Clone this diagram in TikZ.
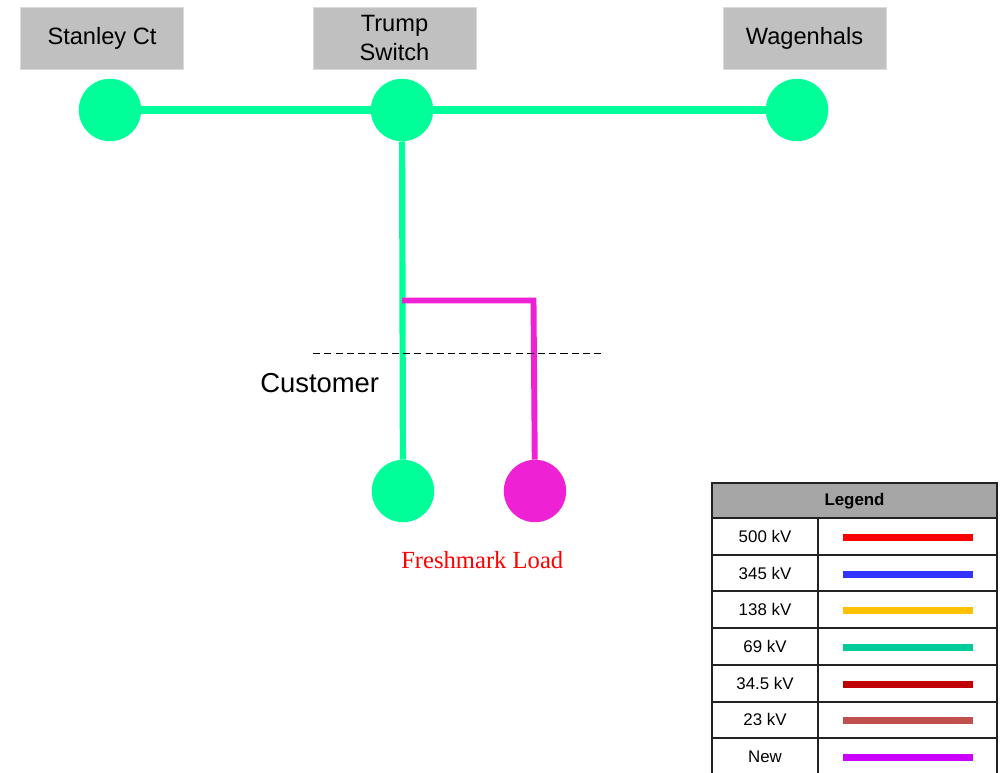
\documentclass[tikz,border=0pt]{standalone}
\usepackage{fontspec}
\setmainfont{Liberation Sans}
\newfontfamily\loadfont{Liberation Serif}
\usetikzlibrary{positioning}
\definecolor{BoxGray}{HTML}{C0C0C0}
\definecolor{BoxEdge}{HTML}{DADADA}
\definecolor{HeadGray}{HTML}{A6A6A6}
\definecolor{GridInk}{HTML}{222222}
\definecolor{Bus69}{HTML}{00FF99}
\definecolor{NewPink}{HTML}{EE22D4}
\definecolor{LoadRed}{HTML}{FF0000}
\definecolor{Kv500}{HTML}{FF0000}
\definecolor{Kv345}{HTML}{3333FF}
\definecolor{Kv138}{HTML}{FFC000}
\definecolor{Kv69}{HTML}{00CC99}
\definecolor{Kv345b}{HTML}{C00000}
\definecolor{Kv23}{HTML}{C0504D}
\definecolor{KvNew}{HTML}{CC00FF}
\tikzset{
  subbox/.style={draw=BoxEdge,fill=BoxGray,minimum width=4.07cm,minimum height=1.55cm,align=center,font=\fontsize{16.8}{20}\selectfont,text=black,inner sep=0pt},
  bus/.style={circle,fill=Bus69,minimum size=1.56cm,inner sep=0pt},
  newbus/.style={bus,fill=NewPink},
  line69/.style={draw=Bus69,line width=5.6pt},
  drop69/.style={draw=Bus69,line width=4.4pt},
  linenew/.style={draw=NewPink,line width=4.2pt,line join=miter},
  boundary/.style={draw=black,dashed,dash pattern=on 5pt off 3pt,line width=0.7pt},
  legtext/.style={font=\fontsize{12}{14}\selectfont,text=black},
  swatch/.style={line width=5pt}
}

\begin{document}
\begin{tikzpicture}[x=0.025cm,y=-0.025cm]
  \useasboundingbox[fill=white] (0,0) rectangle (1005,772);
  \clip (0,0) rectangle (1005,772);
  % station labels
  \node[subbox] (stanleyLbl) at (102,38) {Stanley Ct};
  \node[subbox] (trumpLbl) at (394.5,38) {Trump\\Switch};
  \node[subbox] (wagenLbl) at (804.5,38) {Wagenhals};
  % buses
  \node[bus] (stanley) at (110,110) {};
  \node[bus] (trump) at (402,110) {};
  \node[bus] (wagen) at (797,110) {};
  \node[bus] (custbus) at (403,491) {};
  \node[newbus] (freshmark) at (535,491) {};
  \coordinate (tap) at (402,300.5);
  \coordinate (corner) at (533.5,300.5);
  \draw[line69] (stanley) -- (trump);
  \draw[line69] (trump) -- (wagen);
  \draw[drop69] (trump) -- (custbus);
  \draw[linenew] (tap) -- (corner) -- (freshmark);
  % customer boundary
  \coordinate (cutL) at (313,353.5);
  \coordinate (cutR) at (605,353.5);
  \draw[boundary] (cutL) -- (cutR);
  \node[anchor=base west,inner sep=0pt,font=\fontsize{19.5}{22}\selectfont] (customer) at (260,392) {Customer};
  \node[anchor=base west,inner sep=0pt,text=LoadRed,font=\loadfont\fontsize{17.5}{20}\selectfont] (loadLbl) at (401,568) {Freshmark Load};
  % legend
  \fill[HeadGray] (712,483) rectangle (997,518);
  \node[legtext,font=\fontsize{12}{14}\selectfont\bfseries] (legHead) at (854.5,501) {Legend};
  \foreach \lbl/\col [count=\i] in {500 kV/Kv500, 345 kV/Kv345, 138 kV/Kv138, 69 kV/Kv69, 34.5 kV/Kv345b, 23 kV/Kv23, New/KvNew}{
    \pgfmathsetmacro\rowtop{518+(\i-1)*36.7}
    \pgfmathsetmacro\rowmid{\rowtop+18.35}
    \draw[GridInk,line width=1.4pt] (712,\rowtop) -- (997,\rowtop);
    \node[legtext] (leg\i) at (765,\rowmid) {\lbl};
    \draw[swatch,draw=\col] (843,\rowmid+1) -- (973,\rowmid+1);
  }
  \draw[GridInk,line width=1.4pt] (818,518) -- (818,790);
  \draw[GridInk,line width=1.6pt] (712,790) -- (712,483) -- (997,483) -- (997,790);
\end{tikzpicture}
\end{document}
